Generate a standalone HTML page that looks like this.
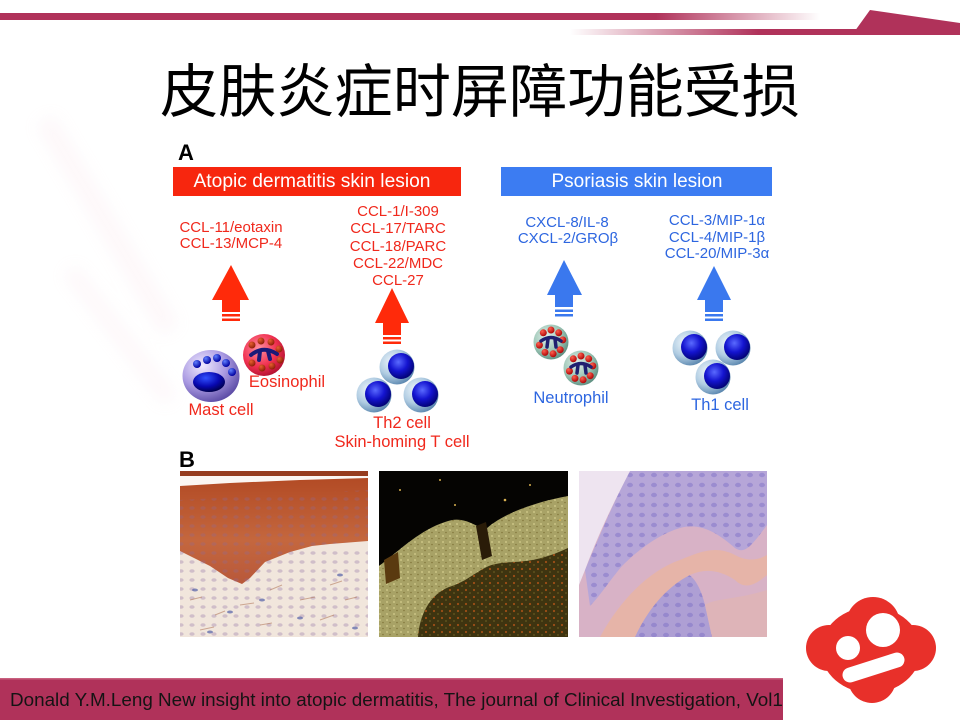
<!DOCTYPE html>
<html>
<head>
<meta charset="utf-8">
<style>
html,body{margin:0;padding:0;background:#fff;width:960px;height:720px;overflow:hidden;}
svg{display:block;}
</style>
</head>
<body>
<svg width="960" height="720" viewBox="0 0 960 720" xmlns="http://www.w3.org/2000/svg">
<defs>
  <linearGradient id="s1" x1="0" y1="0" x2="820" y2="0" gradientUnits="userSpaceOnUse">
    <stop offset="0" stop-color="#b0325a"/>
    <stop offset="0.8" stop-color="#b0325a"/>
    <stop offset="1" stop-color="#b0325a" stop-opacity="0"/>
  </linearGradient>
  <linearGradient id="s2" x1="570" y1="0" x2="860" y2="0" gradientUnits="userSpaceOnUse">
    <stop offset="0" stop-color="#b0325a" stop-opacity="0"/>
    <stop offset="0.65" stop-color="#b0325a"/>
    <stop offset="1" stop-color="#b0325a"/>
  </linearGradient>
  <filter id="blur8" x="-50%" y="-50%" width="200%" height="200%"><feGaussianBlur stdDeviation="8"/></filter>
  <radialGradient id="thOut" cx="0.35" cy="0.35" r="0.7">
    <stop offset="0" stop-color="#eef6fb"/>
    <stop offset="0.55" stop-color="#b0cce2"/>
    <stop offset="1" stop-color="#5a86ae"/>
  </radialGradient>
  <radialGradient id="thIn" cx="0.4" cy="0.35" r="0.7">
    <stop offset="0" stop-color="#5a6aff"/>
    <stop offset="0.5" stop-color="#1414d0"/>
    <stop offset="1" stop-color="#00006a"/>
  </radialGradient>
  <radialGradient id="neu" cx="0.38" cy="0.35" r="0.7">
    <stop offset="0" stop-color="#e2f0ea"/>
    <stop offset="0.6" stop-color="#9cc6b6"/>
    <stop offset="1" stop-color="#5a8c7e"/>
  </radialGradient>
  <radialGradient id="eos" cx="0.38" cy="0.35" r="0.7">
    <stop offset="0" stop-color="#ff90a0"/>
    <stop offset="0.6" stop-color="#f03050"/>
    <stop offset="1" stop-color="#b01030"/>
  </radialGradient>
  <radialGradient id="mast" cx="0.35" cy="0.3" r="0.75">
    <stop offset="0" stop-color="#f0eaff"/>
    <stop offset="0.55" stop-color="#aa9ae2"/>
    <stop offset="1" stop-color="#5a4aa4"/>
  </radialGradient>
  <radialGradient id="bdot" cx="0.35" cy="0.3" r="0.7">
    <stop offset="0" stop-color="#6080ff"/>
    <stop offset="1" stop-color="#0000a0"/>
  </radialGradient>
  <radialGradient id="mnuc" cx="0.4" cy="0.3" r="0.7">
    <stop offset="0" stop-color="#3050ff"/>
    <stop offset="0.6" stop-color="#0808b0"/>
    <stop offset="1" stop-color="#000050"/>
  </radialGradient>
  <radialGradient id="rdot" cx="0.35" cy="0.3" r="0.7">
    <stop offset="0" stop-color="#ff6050"/>
    <stop offset="1" stop-color="#b00808"/>
  </radialGradient>
  <radialGradient id="edot" cx="0.35" cy="0.3" r="0.7">
    <stop offset="0" stop-color="#e86030"/>
    <stop offset="1" stop-color="#902008"/>
  </radialGradient>
  <linearGradient id="epi" x1="0" y1="0" x2="0" y2="1">
    <stop offset="0" stop-color="#b24a24"/>
    <stop offset="0.6" stop-color="#c4673e"/>
    <stop offset="1" stop-color="#b8583a"/>
  </linearGradient>
  <pattern id="cells1" width="11" height="9" patternUnits="userSpaceOnUse">
    <ellipse cx="5" cy="4" rx="2.6" ry="1.8" fill="#8a6aa0" opacity="0.4"/>
  </pattern>
  <pattern id="cells3" width="12" height="10" patternUnits="userSpaceOnUse">
    <ellipse cx="6" cy="5" rx="3" ry="2.2" fill="#6a5ac0" opacity="0.35"/>
  </pattern>
  <pattern id="grain" width="7" height="6" patternUnits="userSpaceOnUse">
    <circle cx="2" cy="2" r="0.9" fill="#e8e0a0" opacity="0.7"/>
    <circle cx="5" cy="4.5" r="0.8" fill="#6a5a20" opacity="0.6"/>
  </pattern>
  <pattern id="dgrain" width="8" height="7" patternUnits="userSpaceOnUse">
    <circle cx="2" cy="2" r="1.1" fill="#c85a18" opacity="0.7"/>
    <circle cx="6" cy="5" r="0.9" fill="#7a6a28" opacity="0.7"/>
  </pattern>
  <clipPath id="c1"><rect x="180" y="471" width="188" height="166"/></clipPath>
  <clipPath id="c2"><rect x="379" y="471" width="189" height="166"/></clipPath>
  <clipPath id="c3"><rect x="579" y="471" width="188" height="166"/></clipPath>
  <clipPath id="cfoot"><rect x="0" y="678" width="783" height="42"/></clipPath>
</defs>

<!-- faint background streaks -->
<g filter="url(#blur8)" opacity="0.14">
  <path d="M45,120 L170,330" stroke="#f2c8d6" stroke-width="20" fill="none"/>
  <path d="M70,270 L170,400" stroke="#f2c8d6" stroke-width="16" fill="none"/>
</g>

<!-- top decoration -->
<rect x="0" y="13" width="820" height="7" fill="url(#s1)"/>
<rect x="570" y="29" width="290" height="6" fill="url(#s2)"/>
<polygon points="852,35 870,10 960,23 960,35" fill="#b0325a"/>

<!-- title -->
<text x="480" y="112" font-size="58" text-anchor="middle" textLength="640" lengthAdjust="spacingAndGlyphs" font-family="'Liberation Sans','Noto Sans CJK SC',sans-serif" fill="#000">皮肤炎症时屏障功能受损</text>

<g font-family="'Liberation Sans',Arial,sans-serif">
<!-- A -->
<text x="178" y="160" font-size="22" font-weight="bold" fill="#000">A</text>

<!-- headers -->
<rect x="173" y="167" width="288" height="29" fill="#f7260e"/>
<text x="312" y="187" font-size="19" fill="#fff" text-anchor="middle" textLength="237" lengthAdjust="spacingAndGlyphs">Atopic dermatitis skin lesion</text>
<rect x="501" y="167" width="271" height="29" fill="#3c7cf2"/>
<text x="637" y="187" font-size="19" fill="#fff" text-anchor="middle" textLength="171" lengthAdjust="spacingAndGlyphs">Psoriasis skin lesion</text>

<!-- red chemokines -->
<g fill="#f0281c" font-size="15" text-anchor="middle">
  <text x="231" y="232">CCL-11/eotaxin</text>
  <text x="231" y="248">CCL-13/MCP-4</text>
  <text x="398" y="216">CCL-1/I-309</text>
  <text x="398" y="233">CCL-17/TARC</text>
  <text x="398" y="251">CCL-18/PARC</text>
  <text x="398" y="268">CCL-22/MDC</text>
  <text x="398" y="285">CCL-27</text>
</g>
<!-- blue chemokines -->
<g fill="#2d66e0" font-size="15" text-anchor="middle">
  <text x="567" y="227">CXCL-8/IL-8</text>
  <text x="568" y="243">CXCL-2/GROβ</text>
  <text x="717" y="225">CCL-3/MIP-1α</text>
  <text x="717" y="242">CCL-4/MIP-1β</text>
  <text x="717" y="258">CCL-20/MIP-3α</text>
</g>

<!-- arrows -->
<g fill="#ff2a0a">
  <polygon points="231,265 249,300 240,300 240,312 222,312 222,300 212,300"/>
  <rect x="222" y="314" width="18" height="2.5"/>
  <rect x="222" y="318.5" width="18" height="2.5"/>
  <polygon points="392,288 409,323 401,323 401,335 383,335 383,323 375,323"/>
  <rect x="383" y="337" width="18" height="2.5"/>
  <rect x="383" y="341.5" width="18" height="2.5"/>
</g>
<g fill="#3a78ee">
  <polygon points="564,260 582,295 573,295 573,307 555,307 555,295 547,295"/>
  <rect x="555" y="309.5" width="18" height="2.5"/>
  <rect x="555" y="314" width="18" height="2.5"/>
  <polygon points="714,266 731,300 723,300 723,312 705,312 705,300 697,300"/>
  <rect x="705" y="314" width="18" height="2.5"/>
  <rect x="705" y="318.5" width="18" height="2.5"/>
</g>

<!-- mast cell -->
<ellipse cx="211" cy="376" rx="28.5" ry="26" fill="url(#mast)"/>
<ellipse cx="209" cy="382" rx="16" ry="10" fill="url(#mnuc)"/>
<g fill="url(#bdot)">
  <circle cx="197" cy="364" r="4"/>
  <circle cx="207" cy="360" r="4"/>
  <circle cx="217" cy="358" r="4"/>
  <circle cx="226" cy="363" r="4"/>
  <circle cx="232" cy="372" r="4"/>
</g>

<!-- eosinophil -->
<circle cx="264" cy="355" r="21" fill="url(#eos)"/>
<g fill="url(#edot)">
  <circle cx="252" cy="345" r="3.5"/>
  <circle cx="261" cy="341" r="3.5"/>
  <circle cx="271" cy="342" r="3.5"/>
  <circle cx="279" cy="349" r="3.5"/>
  <circle cx="280" cy="360" r="3.5"/>
  <circle cx="272" cy="366" r="3.5"/>
  <circle cx="262" cy="368" r="3.5"/>
  <circle cx="252" cy="363" r="3.5"/>
</g>
<g stroke="#1a1a78" stroke-width="4" fill="none" stroke-linecap="round">
  <path d="M251,355 Q263,345 277,354"/>
  <path d="M260,351 L259,360"/>
  <path d="M268,351 L270,359"/>
</g>

<!-- Th2 cells -->
<g>
  <circle cx="397" cy="367" r="17.5" fill="url(#thOut)"/>
  <circle cx="401" cy="366" r="13" fill="url(#thIn)"/>
  <circle cx="374" cy="395" r="17.5" fill="url(#thOut)"/>
  <circle cx="378" cy="394" r="13" fill="url(#thIn)"/>
  <circle cx="421" cy="395" r="17.5" fill="url(#thOut)"/>
  <circle cx="425" cy="394" r="13" fill="url(#thIn)"/>
</g>

<!-- neutrophils -->
<g transform="translate(551,342)">
  <circle r="17.5" fill="url(#neu)"/>
  <g fill="url(#rdot)">
    <circle cx="-7.7" cy="-9.2" r="3.5"/><circle cx="0" cy="-12" r="3.5"/><circle cx="7.7" cy="-9.2" r="3.5"/><circle cx="11.8" cy="-2.1" r="3.5"/>
    <circle cx="9.2" cy="7.7" r="3.5"/><circle cx="2.1" cy="11.8" r="3.5"/><circle cx="-6" cy="10.4" r="3.5"/><circle cx="-11.6" cy="3.1" r="3.5"/>
  </g>
  <g stroke="#202070" stroke-width="3.5" fill="none" stroke-linecap="round">
    <path d="M-10,-1 Q0,-8 10,-1"/><path d="M-3,-3 L-4,5"/><path d="M4,-3 L5,5"/>
  </g>
</g>
<g transform="translate(581,368)">
  <circle r="17.5" fill="url(#neu)"/>
  <g fill="url(#rdot)">
    <circle cx="-7.7" cy="-9.2" r="3.5"/><circle cx="0" cy="-12" r="3.5"/><circle cx="7.7" cy="-9.2" r="3.5"/><circle cx="11.8" cy="-2.1" r="3.5"/>
    <circle cx="9.2" cy="7.7" r="3.5"/><circle cx="2.1" cy="11.8" r="3.5"/><circle cx="-6" cy="10.4" r="3.5"/><circle cx="-11.6" cy="3.1" r="3.5"/>
  </g>
  <g stroke="#202070" stroke-width="3.5" fill="none" stroke-linecap="round">
    <path d="M-10,-1 Q0,-8 10,-1"/><path d="M-3,-3 L-4,5"/><path d="M4,-3 L5,5"/>
  </g>
</g>

<!-- Th1 cells -->
<g>
  <circle cx="690" cy="348" r="17.5" fill="url(#thOut)"/>
  <circle cx="694" cy="347" r="13" fill="url(#thIn)"/>
  <circle cx="733" cy="348" r="17.5" fill="url(#thOut)"/>
  <circle cx="737" cy="347" r="13" fill="url(#thIn)"/>
  <circle cx="713" cy="377" r="17.5" fill="url(#thOut)"/>
  <circle cx="717" cy="376" r="13" fill="url(#thIn)"/>
</g>

<!-- cell labels -->
<g fill="#f0281c" font-size="16.5" text-anchor="middle">
  <text x="287" y="387">Eosinophil</text>
  <text x="221" y="415">Mast cell</text>
  <text x="402" y="428">Th2 cell</text>
  <text x="402" y="447">Skin-homing T cell</text>
</g>
<g fill="#2d66e0" font-size="16.5" text-anchor="middle">
  <text x="571" y="403">Neutrophil</text>
  <text x="720" y="410">Th1 cell</text>
</g>

<!-- B -->
<text x="179" y="467" font-size="22" font-weight="bold" fill="#000">B</text>
</g>

<!-- image 1 -->
<g clip-path="url(#c1)">
  <rect x="180" y="471" width="188" height="166" fill="#f1e6dc"/>
  <rect x="180" y="550" width="188" height="87" fill="url(#cells1)" opacity="0.8"/>
  <g stroke="#a86848" stroke-width="1" opacity="0.5">
    <path d="M190,600 l12,-3 M215,615 l10,-4 M240,605 l14,-2 M270,590 l12,-5 M300,600 l15,-3 M330,585 l12,-4 M200,630 l14,-3 M260,625 l12,-2 M320,620 l14,-5 M345,600 l12,-3"/>
  </g>
  <g fill="#3a4aa0" opacity="0.6">
    <ellipse cx="195" cy="590" rx="3" ry="1.5"/><ellipse cx="230" cy="612" rx="3" ry="1.5"/><ellipse cx="262" cy="600" rx="3" ry="1.5"/><ellipse cx="300" cy="618" rx="3" ry="1.5"/><ellipse cx="340" cy="575" rx="3" ry="1.5"/><ellipse cx="355" cy="628" rx="3" ry="1.5"/><ellipse cx="210" cy="632" rx="3" ry="1.5"/>
  </g>
  <path d="M180,484 L230,482 L300,478 L368,476 L368,541 L330,544 L312,546 L290,552 L265,562 L250,578 L242,584 L228,578 L210,566 L180,551 Z" fill="url(#epi)"/>
  <path d="M180,500 L368,490 L368,541 L330,544 L312,546 L290,552 L265,562 L250,578 L242,584 L228,578 L210,566 L180,551 Z" fill="url(#cells1)" opacity="0.7"/>
  <rect x="180" y="471" width="188" height="5" fill="#963c1e"/>
  <polygon points="180,476 368,476 368,478 300,480 230,483 180,486" fill="#fbf6f2"/>
</g>

<!-- image 2 -->
<g clip-path="url(#c2)">
  <rect x="379" y="471" width="189" height="166" fill="#050402"/>
  <path d="M379,566 C400,550 420,530 445,522 C460,516 470,522 485,530 C495,520 520,505 568,496 L568,637 L379,637 Z" fill="#a8a266"/>
  <path d="M379,566 C400,550 420,530 445,522 C460,516 470,522 485,530 C495,520 520,505 568,496 L568,637 L379,637 Z" fill="url(#grain)"/>
  <path d="M418,637 C420,612 432,592 452,586 C470,580 482,566 496,564 C512,560 530,566 568,548 L568,637 Z" fill="#3e3410"/>
  <path d="M418,637 C420,612 432,592 452,586 C470,580 482,566 496,564 C512,560 530,566 568,548 L568,637 Z" fill="url(#dgrain)"/>
  <path d="M476,526 L486,522 L492,556 L482,560 Z" fill="#2a1c08"/>
  <path d="M384,560 L398,552 L400,578 L386,584 Z" fill="#5a3a10"/>
  <g fill="#d8b050">
    <circle cx="400" cy="490" r="1"/><circle cx="440" cy="480" r="1"/><circle cx="505" cy="500" r="1.3"/><circle cx="530" cy="485" r="1"/><circle cx="455" cy="505" r="1"/><circle cx="560" cy="520" r="1"/>
  </g>
</g>

<!-- image 3 -->
<g clip-path="url(#c3)">
  <rect x="579" y="471" width="188" height="166" fill="#d8b2c6"/>
  <path d="M630,471 L767,471 L767,525 C752,545 745,555 735,548 C718,533 700,522 680,528 C660,534 640,548 622,566 C610,580 600,596 590,606 L585,570 C598,540 612,505 630,471 Z" fill="#b6a6d8"/>
  <path d="M630,471 L767,471 L767,525 C752,545 745,555 735,548 C718,533 700,522 680,528 C660,534 640,548 622,566 C610,580 600,596 590,606 L585,570 C598,540 612,505 630,471 Z" fill="url(#cells3)"/>
  <path d="M579,471 L630,471 C615,500 600,530 585,570 L579,585 Z" fill="#eee4f0"/>
  <path d="M625,637 C635,605 655,585 672,575 C690,565 700,585 705,605 L712,637 Z" fill="#ae9fd4"/>
  <path d="M625,637 C635,605 655,585 672,575 C690,565 700,585 705,605 L712,637 Z" fill="url(#cells3)"/>
  <path d="M600,637 C620,600 650,570 680,560 C700,552 715,545 735,555 C748,562 758,560 767,555 L767,575 C755,585 745,590 735,580 C720,570 705,568 690,575 C670,585 650,605 635,637 Z" fill="#e6b4a8"/>
  <path d="M712,637 L705,605 C715,598 735,600 767,590 L767,637 Z" fill="#deb4b8"/>
</g>

<!-- logo -->
<g fill="#e8302a">
  <ellipse cx="871" cy="650" rx="50" ry="43"/>
  <circle cx="873" cy="624" r="27"/>
  <circle cx="829" cy="648" r="23"/>
  <circle cx="913" cy="648" r="23"/>
  <circle cx="872" cy="679" r="24"/>
</g>
<circle cx="883" cy="630" r="17" fill="#fff"/>
<circle cx="848" cy="648" r="12" fill="#fff"/>
<line x1="850" y1="675" x2="897" y2="660" stroke="#fff" stroke-width="15" stroke-linecap="round"/>

<!-- footer -->
<rect x="0" y="678" width="783" height="42" fill="#b0325a"/>
<rect x="0" y="678" width="783" height="1.5" fill="#c8607e"/>
<g clip-path="url(#cfoot)">
  <text x="10" y="706" font-size="18" fill="#141414" font-family="'Liberation Sans',Arial,sans-serif" textLength="782" lengthAdjust="spacingAndGlyphs">Donald Y.M.Leng New insight into atopic dermatitis, The journal of Clinical Investigation, Vol11</text>
</g>
</svg>
</body>
</html>
